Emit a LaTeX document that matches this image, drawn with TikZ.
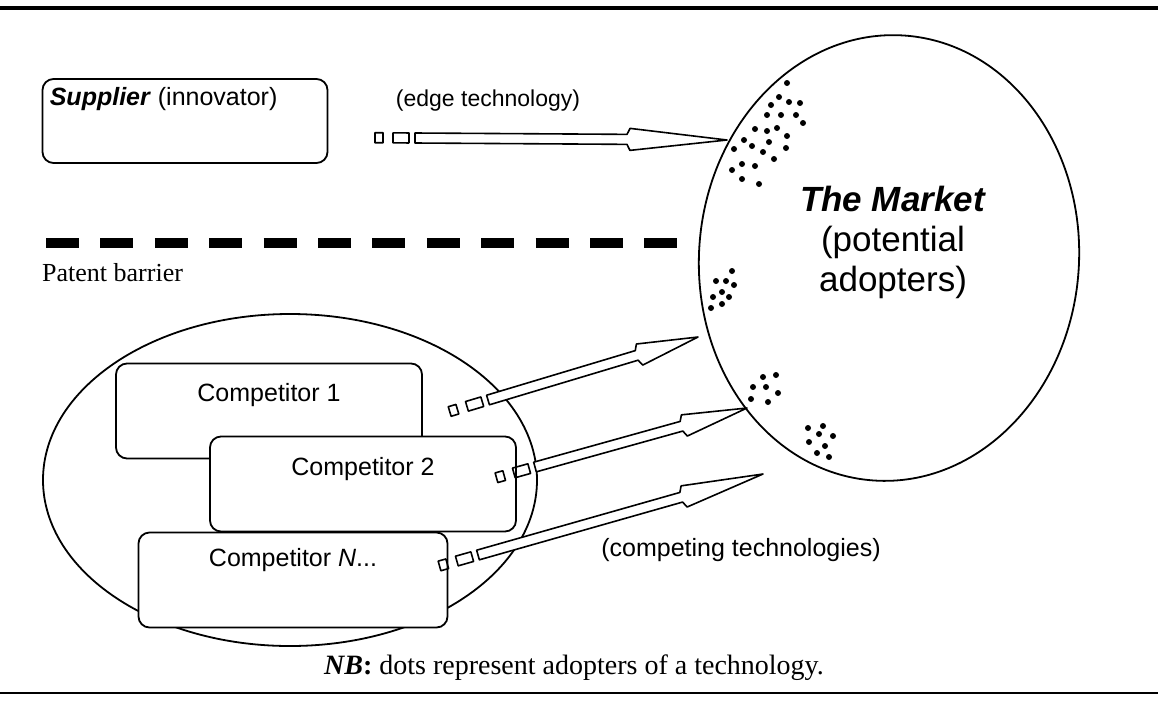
\documentclass[tikz,border=0pt]{standalone}
\usepackage{fontspec}
\setmainfont{Liberation Serif}
\newfontfamily\arialfont{Liberation Sans}
\usetikzlibrary{calc,positioning,shapes.geometric}

% hollow technology arrow: two small boxes, a shaft and an open head
\newcommand{\techarrow}[3]{%
  \path let \p1=($(#2)-(#1)$), \n1={atan2(\y1,\x1)}, \n2={veclen(\x1,\y1)} in
    \pgfextra{\xdef\tang{\n1}\xdef\tlen{\n2}};
  \begin{scope}[shift={(#1)}, rotate=\tang]
    \draw[techline] (-40,-5) rectangle (-32,5);
    \draw[techline] (-22,-5) rectangle (-6,5);
    \draw[techline, fill=white] (0,-5) -- (\tlen-#3,-5) -- (\tlen-#3+3,-11)
      -- (\tlen,0) -- (\tlen-#3+3,11) -- (\tlen-#3,5) -- (0,5) -- cycle;
  \end{scope}}

\begin{document}
\begin{tikzpicture}[x=1pt, y=-1pt,
    firmbox/.style={draw, line width=1.8pt, rounded corners=11pt, fill=white,
      minimum width=306pt, minimum height=95pt, inner sep=0pt},
    sanslabel/.style={font=\arialfont\fontsize{25}{28}\selectfont, inner sep=0pt},
    techline/.style={line width=1.6pt, line join=round},
    adopter/.style={fill=black}]
  \useasboundingbox (0,0) rectangle (1158,702);

  % rules
  \draw[line width=4pt] (0,8) -- (1158,8);
  \draw[line width=2.5pt] (0,693) -- (1158,693);

  % supplier
  \node[firmbox, minimum width=285pt, minimum height=84pt] (sup) at (185,121) {};
  \node[sanslabel, anchor=north west] (suptext) at ($(sup.north west)+(8,9)$)
    {\textbf{\textit{Supplier}} (innovator)};
  \node[sanslabel, font=\arialfont\fontsize{23}{26}\selectfont] (edgetext) at (488,101) {(edge technology)};

  % patent barrier
  \draw[line width=10pt, dash pattern=on 33pt off 21.4pt] (46,243) -- (680,243);
  \node[font=\fontsize{26}{30}\selectfont, inner sep=0pt, anchor=west] (barrier) at (42,273) {Patent barrier};

  % the market
  \node[draw, ellipse, line width=1.8pt, minimum width=380pt, minimum height=446pt,
    rotate=-4] (mkt) at (889,258) {};
  \node[font=\arialfont\fontsize{35}{40}\selectfont, align=center, inner sep=0pt] (mkttext) at (893,242)
    {\textbf{\textit{The Market}}\\(potential\\adopters)};

  % competitors
  \node[draw, ellipse, line width=1.8pt, minimum width=494pt, minimum height=332pt] (comp) at (290,480) {};
  \node[firmbox] (c1) at (269,411) {};
  \node[sanslabel, below=21pt of c1.north] (c1text) {Competitor 1};
  \node[firmbox] (c2) at (363,484) {};
  \node[sanslabel, below=22pt of c2.north] (c2text) {Competitor 2};
  \node[firmbox, minimum width=309pt] (cn) at (293,580) {};
  \node[sanslabel, below=17pt of cn.north] (cntext) {Competitor \textit{N}...};
  \node[sanslabel] (comptext) at (741,550) {(competing technologies)};

  % arrow ends
  \coordinate (sup-out) at (415,138);
  \coordinate (mkt-in) at (727,140);
  \coordinate (c1-out) at (488,400);
  \coordinate (mkt-c1) at (698,337);
  \coordinate (c2-out) at (535,467);
  \coordinate (mkt-c2) at (747,408);
  \coordinate (cn-out) at (478,555);
  \coordinate (mkt-cn) at (763,474);

  \techarrow{sup-out}{mkt-in}{100}
  \techarrow{c1-out}{mkt-c1}{64}
  \techarrow{c2-out}{mkt-c2}{68}
  \techarrow{cn-out}{mkt-cn}{85}

  % adopters
  \foreach \p in {(787,83),(779,97),(789,102),(800,103),(771,105),(767,115),(781,115),
      (796,115),(803,123),(755,129),(767,131),(777,128),(787,136),(744,140),(752,146),
      (769,142),(734,149),(763,152),(786,148),(774,159),(742,164),(755,166),(732,170),
      (742,179),(759,184)}
    \fill[adopter] \p circle (3);
  \foreach \p in {(732,271),(716,281),(726,281),(734,285),(722,292),(713,297),(729,297),
      (722,304),(711,308)}
    \fill[adopter] \p circle (3);
  \foreach \p in {(763,377),(776,375),(753,387),(766,387),(778,393),(751,399),(768,402)}
    \fill[adopter] \p circle (3);
  \foreach \p in {(808,428),(823,426),(819,434),(833,436),(809,442),(825,446),(817,453),(829,457)}
    \fill[adopter] \p circle (3);

  % note
  \node[font=\fontsize{28}{32}\selectfont, inner sep=0pt] (note) at (574,668)
    {\textbf{\textit{NB}:} dots represent adopters of a technology.};
\end{tikzpicture}
\end{document}
